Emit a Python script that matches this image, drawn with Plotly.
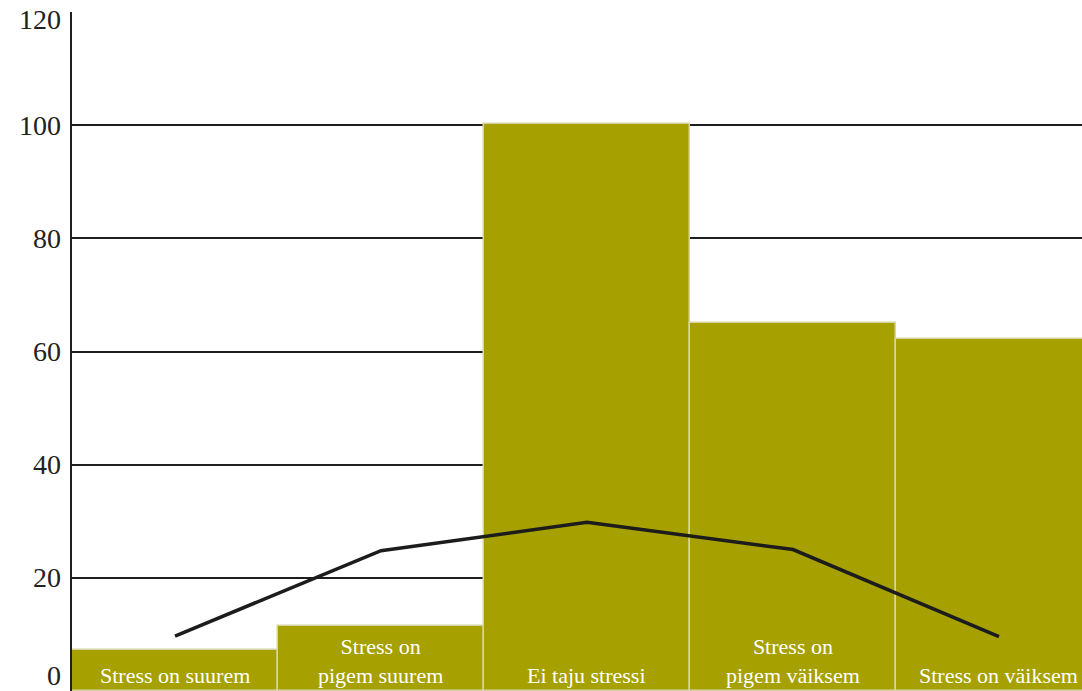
import plotly.graph_objects as go

# Categories (stress compared with others), bar heights and the overlaid line
categories = ["Stress on suurem", "Stress on<br>pigem suurem", "Ei taju stressi",
              "Stress on<br>pigem väiksem", "Stress on väiksem"]
bar_values = [7.3, 11.5, 100.2, 65.0, 62.2]
line_values = [9.7, 24.8, 29.8, 25.0, 9.6]
y_ticks = [0, 20, 40, 60, 80, 100, 120]
y_tick_labels = ["0", "20", "40", "60", "80", "100", "120"]

serif = "Liberation Serif, Times New Roman, serif"
x_idx = list(range(len(categories)))

fig = go.Figure()
fig.add_trace(go.Bar(
    x=x_idx, y=bar_values,
    marker=dict(color="#A6A000", line=dict(color="#D8D4A2", width=1.5)),
    width=1.0, showlegend=False, hoverinfo="skip",
))
fig.add_trace(go.Scatter(
    x=x_idx, y=line_values, mode="lines",
    line=dict(color="#1c1c1c", width=3.5),
    showlegend=False, hoverinfo="skip",
))

# Category names written inside the bars, near the baseline
for i, name in enumerate(categories):
    fig.add_annotation(
        x=i, y=0, xref="x", yref="y", text=name, showarrow=False,
        yanchor="bottom", yshift=1,
        font=dict(family=serif, size=22, color="white"),
        align="center",
    )

# Value axis labels
for v, lab in zip(y_ticks, y_tick_labels):
    shift = 0
    if v == y_ticks[0]:
        shift = 16
    elif v == y_ticks[-1]:
        shift = -7
    fig.add_annotation(
        x=0, y=v, xref="paper", yref="y", text=lab, showarrow=False,
        xanchor="right", yanchor="middle", xshift=-9, yshift=shift,
        font=dict(family=serif, size=28, color="#222222"),
    )

fig.update_layout(
    width=1082, height=691,
    margin=dict(l=72, r=0, t=12, b=0),
    paper_bgcolor="white", plot_bgcolor="white",
    bargap=0,
    xaxis=dict(range=[-0.5, 4.403], showticklabels=False, showgrid=False,
               zeroline=False, showline=False, ticks=""),
    yaxis=dict(range=[0, 120], tickvals=y_ticks, showticklabels=False,
               showgrid=True, gridcolor="#1e1e1e", gridwidth=1.6,
               zeroline=False, showline=True, linecolor="#1e1e1e", linewidth=2,
               ticks=""),
)

fig.write_html("out.html")
